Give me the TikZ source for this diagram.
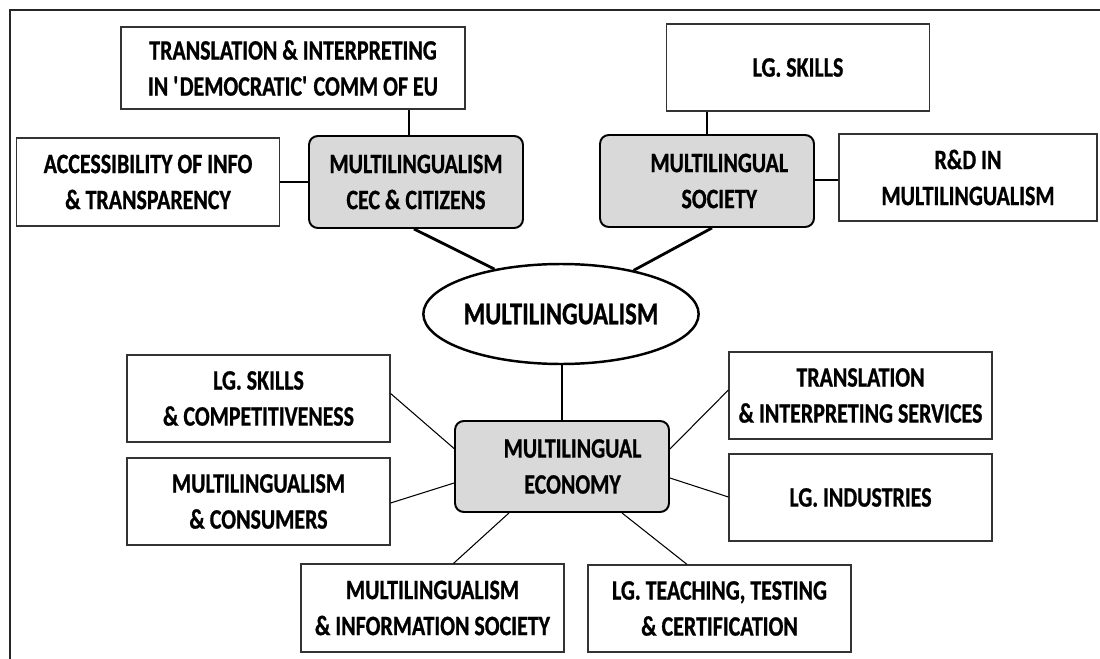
\documentclass[tikz,border=0pt]{standalone}
\usepackage{fontspec}
\setmainfont{Carlito}[FakeStretch=0.78, BoldFeatures={FakeBold=0.8}]
\usetikzlibrary{shapes.geometric,calc}
\definecolor{boxgray}{HTML}{D9D9D9}
\definecolor{edge}{HTML}{333333}
\begin{document}
\begin{tikzpicture}[x=0.02cm,y=-0.02cm,
  txt/.style={font=\fontsize{16}{20.5}\selectfont\bfseries, align=center, inner sep=0pt, text=black},
  wbox/.style={txt, draw=edge, line width=0.7pt, fill=white, minimum width=5.26cm, minimum height=1.74cm},
  gbox/.style={txt, draw=black, line width=1.1pt, fill=boxgray, rounded corners=5pt, minimum width=4.28cm, minimum height=1.84cm},
  thickc/.style={line width=1.4pt, black},
  thinc/.style={line width=0.6pt, black}]
\useasboundingbox (0,0) rectangle (1100,659);
\fill[white] (0,0) rectangle (1100,659);
\draw[line width=0.9pt, black!85] (10,659) -- (10,10) -- (1100,10);

% top-left group
\node[wbox, minimum width=6.88cm, minimum height=1.64cm] (ti) at (293,68) {TRANSLATION \& INTERPRETING\\IN \textquotesingle DEMOCRATIC\textquotesingle\ COMM OF EU};
\node[wbox, minimum height=1.76cm] (acc) at (148,182) {ACCESSIBILITY OF INFO\\\& TRANSPARENCY};
\node[gbox] (cec) at (416,182) {MULTILINGUALISM\\CEC \& CITIZENS};

% top-right group
\node[wbox] (lgs) at (798,67.5) {LG. SKILLS};
\node[gbox] (soc) at (707,181) {\hspace*{14pt}MULTILINGUAL\\\hspace*{14pt}SOCIETY};
\node[wbox, minimum width=5.16cm] (rd) at (968,177.5) {R\&D IN\\MULTILINGUALISM};

% centre
\node[txt, font=\fontsize{18}{20}\selectfont\bfseries, ellipse, draw=black, line width=1.4pt, fill=white, minimum width=5.16cm, minimum height=2.0cm] (ml) at (561,314) {MULTILINGUALISM};

% bottom group
\node[gbox, minimum height=1.82cm] (eco) at (562,466.5) {\hspace*{12pt}MULTILINGUAL\\\hspace*{12pt}ECONOMY};
\node[wbox] (lgc) at (258.5,398.5) {LG. SKILLS\\\& COMPETITIVENESS};
\node[wbox] (con) at (258.5,501.5) {MULTILINGUALISM\\\& CONSUMERS};
\node[wbox, minimum height=1.76cm] (inf) at (432.5,608) {MULTILINGUALISM\\\& INFORMATION SOCIETY};
\node[wbox] (tra) at (860.5,395.5) {TRANSLATION\\\& INTERPRETING SERVICES};
\node[wbox] (ind) at (860.5,497.5) {LG. INDUSTRIES};
\node[wbox] (tea) at (719.5,608.5) {LG. TEACHING, TESTING\\\& CERTIFICATION};

% anchor points
\coordinate (cecN) at ($(cec.north)+(-7,0)$);
\coordinate (socE) at ($(soc.east)+(0,-1)$);

% connectors (top)
\draw[thickc] (cecN) -- (cecN |- ti.south);
\draw[thickc] (acc.east) -- (cec.west);
\draw[thickc] (soc.north) -- (soc.north |- lgs.south);
\draw[thickc] (socE) -- (socE -| rd.west);
\draw[line width=1.6pt] ($(cec.south)+(-2,0)$) -- (ml.146);
\draw[line width=1.6pt] ($(soc.south)+(5,0)$) -- (ml.31);
\draw[line width=1.1pt] (eco.north) -- (eco.north |- ml.south);

% connectors (bottom)
\draw[thinc] ($(eco.west)+(0,-18)$) -- ($(lgc.east)+(0,-5)$);
\draw[thinc] ($(eco.west)+(0,16.5)$) -- ($(con.east)+(0,1.5)$);
\draw[thinc] ($(eco.south)+(-53,0)$) -- ($(inf.north)+(21,0)$);
\draw[thinc] ($(eco.east)+(0,-17.5)$) -- ($(tra.west)+(0,-5.5)$);
\draw[thinc] ($(eco.east)+(0,11.5)$) -- ($(ind.west)+(0,-0.5)$);
\draw[thinc] ($(eco.south)+(60,0)$) -- ($(tea.north)+(-32.5,0)$);
\end{tikzpicture}
\end{document}
